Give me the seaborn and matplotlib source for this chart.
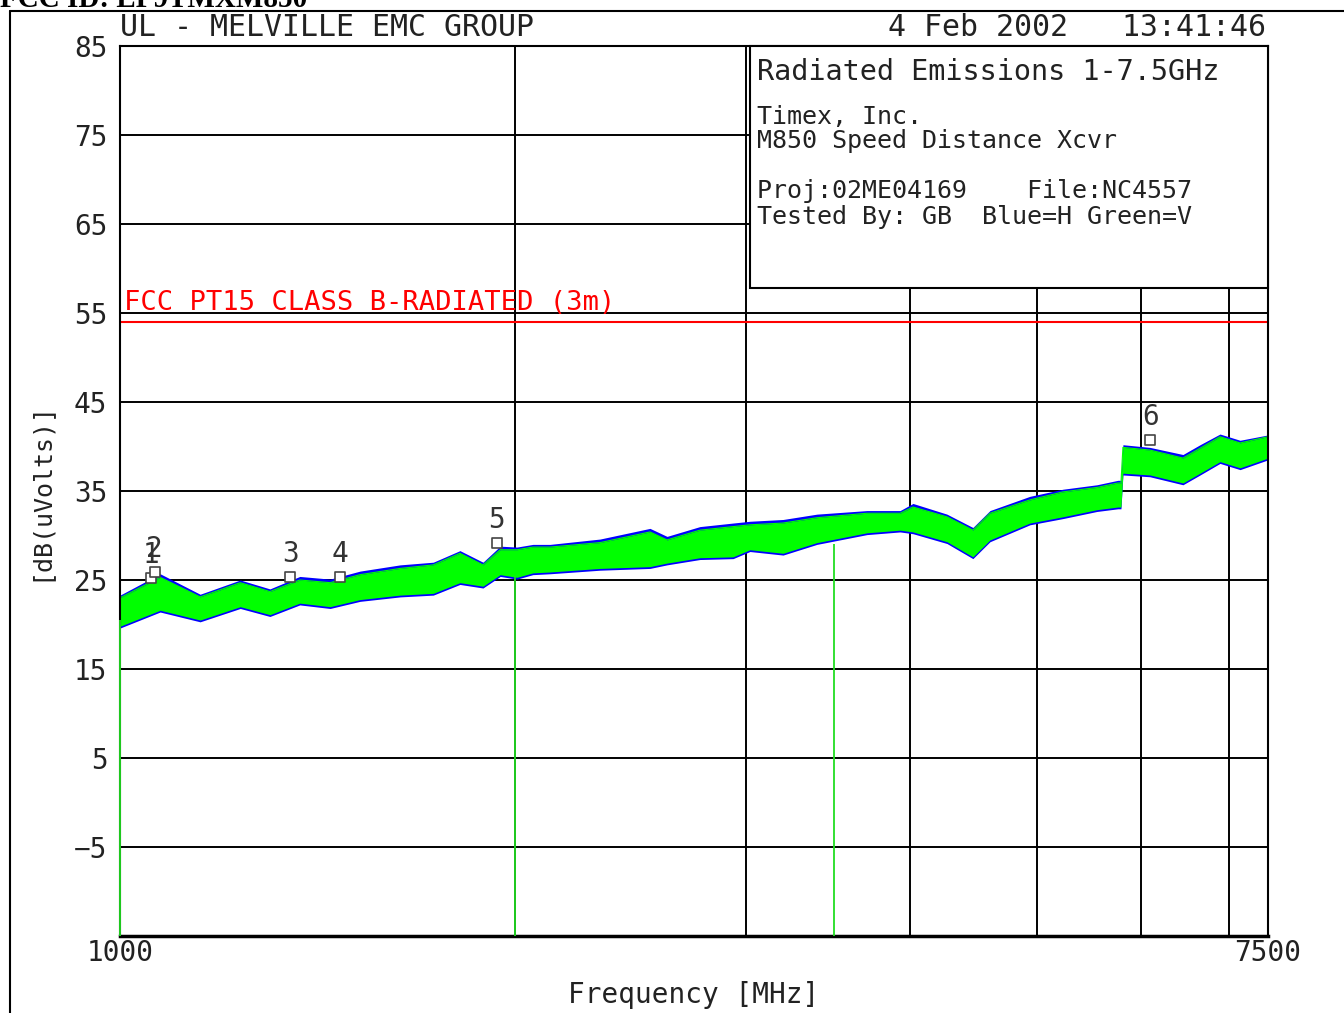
import matplotlib
matplotlib.use("Agg")
import matplotlib.pyplot as plt
import seaborn as sns
import pandas as pd
from matplotlib.patches import Rectangle
from matplotlib.lines import Line2D

# ---------------- data ----------------
freq_mhz = [1000, 1073, 1151, 1235, 1301, 1371, 1446, 1524, 1635, 1733, 1816, 1891,
            1949, 2007, 2064, 2127, 2322, 2535, 2612, 2767, 2933, 3021, 3202, 3398,
            3710, 3932, 4022, 4269, 4468, 4604, 4938, 5233, 5555, 5763, 5794, 5814,
            6096, 6460, 6657, 6894, 7141, 7500]
green_hi = [23.0, 25.3, 23.1, 24.7, 23.7, 25.0, 24.7, 25.6, 26.3, 26.7, 28.0, 26.7,
            28.4, 28.4, 28.7, 28.7, 29.2, 30.4, 29.5, 30.6, 31.0, 31.2, 31.4, 32.0,
            32.5, 32.5, 33.2, 32.1, 30.6, 32.5, 34.0, 34.9, 35.4, 35.9, 35.9, 39.9,
            39.6, 38.7, 39.8, 41.1, 40.4, 41.1]
green_lo = [19.8, 21.6, 20.5, 22.0, 21.1, 22.4, 22.0, 22.8, 23.3, 23.5, 24.7, 24.3,
            25.6, 25.3, 25.8, 25.9, 26.3, 26.5, 26.9, 27.5, 27.6, 28.4, 28.0, 29.2,
            30.3, 30.6, 30.4, 29.3, 27.6, 29.5, 31.4, 32.1, 32.9, 33.2, 33.2, 37.0,
            36.8, 35.9, 37.0, 38.3, 37.6, 38.7]
blue_hi = [23.3, 25.7, 23.4, 25.0, 24.0, 25.4, 25.1, 26.0, 26.7, 27.0, 28.3, 27.0,
           28.8, 28.7, 29.0, 29.0, 29.6, 30.8, 29.9, 31.0, 31.4, 31.6, 31.8, 32.4,
           32.8, 32.8, 33.6, 32.4, 30.9, 32.8, 34.4, 35.2, 35.7, 36.2, 36.2, 40.2,
           39.9, 39.1, 40.2, 41.4, 40.7, 41.3]
blue_lo = [19.6, 21.4, 20.3, 21.8, 20.9, 22.2, 21.8, 22.6, 23.1, 23.3, 24.5, 24.1,
           25.4, 25.1, 25.6, 25.7, 26.1, 26.3, 26.7, 27.3, 27.4, 28.2, 27.8, 29.0,
           30.1, 30.4, 30.2, 29.1, 27.4, 29.3, 31.2, 31.9, 32.7, 33.0, 33.0, 36.8,
           36.6, 35.7, 36.8, 38.1, 37.4, 38.5]

segment_freq = [1000, 2000, 3500]
segment_top = [20.5, 25.5, 29.0]

limit_db = 54.0
limit_label = "FCC PT15 CLASS B-RADIATED (3m)"

marker_ids = ["1", "2", "3", "4", "5", "6"]
marker_freq = [1056, 1063, 1348, 1472, 1938, 6100]
marker_db = [25.2, 25.9, 25.3, 25.3, 29.2, 40.7]

y_ticks = [85, 75, 65, 55, 45, 35, 25, 15, 5, -5]
x_grid = [2000, 3000, 4000, 5000, 6000, 7000]
x_labels = {1000: "1000", 7500: "7500"}

info_lines = ["Radiated Emissions 1-7.5GHz", "Timex, Inc.", "M850 Speed Distance Xcvr",
              "Proj:02ME04169    File:NC4557", "Tested By: GB  Blue=H Green=V"]

# ---------------- figure ----------------
sns.set_theme(style="white")
plt.rcParams['font.family'] = ['DejaVu Sans Mono', 'DejaVu Sans']
W, H = 1344, 1013
fig = plt.figure(figsize=(W / 100, H / 100), dpi=100)
fig.patch.set_facecolor("white")

def fx(px):
    return px / W

def fy(py):
    return 1 - py / H

ax = fig.add_axes([fx(120), 1 - 936 / H, 1148 / W, 890 / H])
ax.set_facecolor("white")
ax.set_xscale("log")
ax.set_xlim(1000, 7500)
ax.set_ylim(-15, 85)

df = pd.DataFrame({"f": freq_mhz, "ghi": green_hi, "glo": green_lo,
                   "bhi": blue_hi, "blo": blue_lo})

# traces
ax.fill_between(df["f"], df["blo"], df["bhi"], color="#0000ff", lw=0, zorder=2)
ax.fill_between(df["f"], df["glo"], df["ghi"], color="#00ff00", lw=0, zorder=2.1)
sns.lineplot(data=df, x="f", y="ghi", ax=ax, color="#00ff00", lw=0.8, zorder=2.2,
             estimator=None, sort=False)
ax.vlines(segment_freq, -15, segment_top, color="#22dd22", lw=1.3, zorder=3.5, clip_on=False)

# limit line
ax.axhline(limit_db, color="#ff0000", lw=1.5, zorder=2)
ax.text(1007, 55.35, limit_label, color="#ff0000", fontsize=19.5, va="baseline",
        ha="left", zorder=4)

# markers
ax.scatter(marker_freq, marker_db, s=55, facecolors="white", edgecolors="#444444",
           linewidths=1.2, zorder=4, marker="s")
for mid, mf, md in zip(marker_ids, marker_freq, marker_db):
    ax.text(mf, md + 1.0, mid, ha="center", va="bottom", fontsize=20,
            color="#333333", zorder=4)

# grid
ax.set_yticks(y_ticks)
ax.set_yticklabels([str(v).replace("-", "\u2212") for v in y_ticks])
ax.set_xticks([1000] + x_grid + [7500])
ax.set_xticklabels([x_labels.get(v, "") for v in [1000] + x_grid + [7500]])
ax.minorticks_off()
ax.grid(True, color="black", lw=1.4)
ax.set_axisbelow(True)
ax.tick_params(axis="both", length=0, labelsize=20, colors="#222222")
ax.tick_params(axis="y", pad=9)
ax.tick_params(axis="x", pad=2)
for s in ax.spines.values():
    s.set_color("black")
    s.set_linewidth(1.5)
ax.spines["bottom"].set_linewidth(2.5)

ax.set_xlabel("Frequency [MHz]", fontsize=20, color="#222222", labelpad=10)
ax.set_ylabel("[dB(uVolts)]", fontsize=18, color="#222222", labelpad=16)

# info box
box = Rectangle((fx(750), fy(288)), fx(1268) - fx(750), fy(46) - fy(288),
                transform=fig.transFigure, facecolor="white", edgecolor="black",
                lw=1.5, zorder=5)
fig.add_artist(box)
line_y = [72, 117, 141, 191, 217]
for txt, py in zip(info_lines, line_y):
    fig.text(fx(757), fy(py), txt, fontsize=20.5 if py == 72 else 18,
             va="center", ha="left", color="#222222", zorder=6)

# header texts
fig.text(fx(120), fy(36), "UL - MELVILLE EMC GROUP", fontsize=21.5, va="baseline",
         ha="left", color="#222222")
fig.text(fx(1266), fy(36), "4 Feb 2002   13:41:46", fontsize=21.5, va="baseline",
         ha="right", color="#222222")
fig.text(0, fy(7), "FCC ID: EP9TMXM850", fontsize=21, va="baseline", ha="left",
         family="Liberation Serif", weight="bold", color="black")

# outer frame
fig.add_artist(Line2D([fx(10), 1], [fy(11), fy(11)], color="black", lw=1.5,
                      transform=fig.transFigure))
fig.add_artist(Line2D([fx(10), fx(10)], [fy(11), 0], color="black", lw=1.5,
                      transform=fig.transFigure))

fig.savefig("out.png", dpi=100)
